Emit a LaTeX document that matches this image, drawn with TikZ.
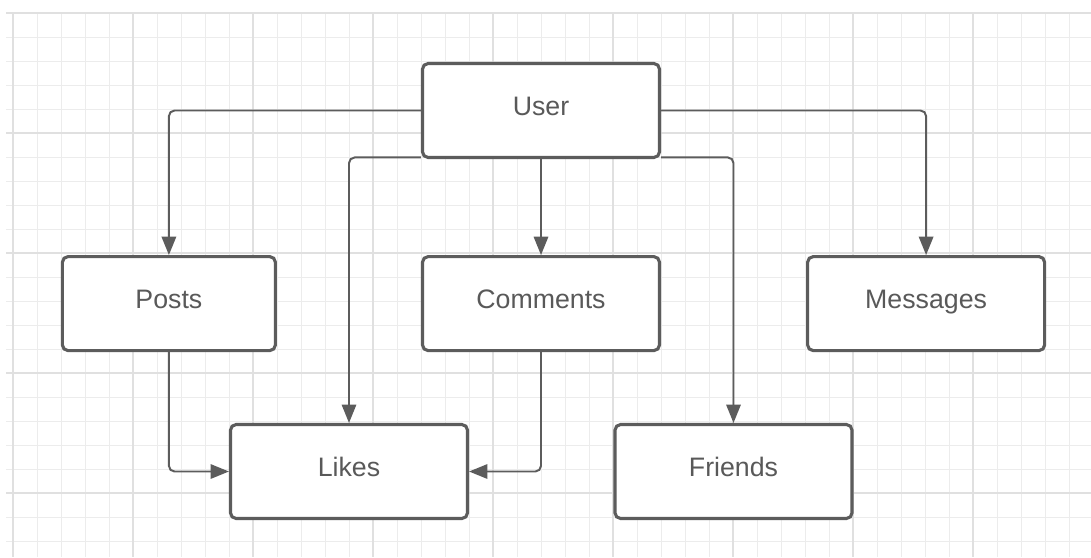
\documentclass[tikz,border=0pt]{standalone}
\usepackage{fontspec}
\setmainfont{Liberation Sans}
\usetikzlibrary{positioning, arrows.meta}

\definecolor{linegray}{HTML}{5C5C5C}
\definecolor{textgray}{HTML}{595959}
\definecolor{gridminor}{HTML}{ECECEC}
\definecolor{gridmajor}{HTML}{E0E0E0}

\begin{document}
\begin{tikzpicture}[
      x = 0.25mm, y = -0.25mm,
      node distance = 24mm and 36mm,
      box/.style    = {rectangle, draw=linegray, line width=2.2pt,
                       rounded corners=4pt, fill=white,
                       minimum width=59.25mm, minimum height=23.5mm,
                       text height=4.8mm, text depth=2.2mm,
                       align=center, text=textgray,
                       font=\fontsize{19}{22}\selectfont},
      arr/.style    = {-{Triangle[length=4.6mm, width=3.6mm]},
                       line width=1.4pt, color=linegray, rounded corners=4pt},
      minorline/.style = {line width=0.6pt, color=gridminor},
      majorline/.style = {line width=0.8pt, color=gridmajor},
    ]
    \useasboundingbox (0,0) rectangle (1091,557);
    \fill[white] (0,0) rectangle (1091,557);

    % Background grid
    \foreach \gx in {13,37,...,1091} \draw[minorline] (\gx,13) -- (\gx,557);
    \foreach \gy in {13,37,...,557}  \draw[minorline] (6,\gy) -- (1091,\gy);
    \foreach \gx in {13,133,...,1091} \draw[majorline] (\gx,13) -- (\gx,557);
    \foreach \gy in {13,133,...,557}  \draw[majorline] (6,\gy) -- (1091,\gy);

    % Entities
    \node[box] (user) at (541,110.5) {User};
    \node[box, below=of user]       (comments) {Comments};
    \node[box, minimum width=53.25mm, left=of comments] (posts) {Posts};
    \node[box, right=36.25mm of comments] (messages) {Messages};
    \node[box] (likes)   at (349,471.5) {Likes};
    \node[box] (friends) at (733.5,471.5) {Friends};

    % Relations from the user
    \draw[arr] (user.west) -| (posts.north);
    \draw[arr] (user.east) -| (messages.north);
    \draw[arr] (user) -- (comments);
    \draw[arr] ([yshift=0.4mm]user.south west) -| (likes.north);
    \draw[arr] ([yshift=0.4mm]user.south east) -| (friends.north);

    % Likes on posts and comments
    \draw[arr] (posts.south) |- (likes.west);
    \draw[arr] (comments.south) |- (likes.east);
  \end{tikzpicture}
\end{document}
